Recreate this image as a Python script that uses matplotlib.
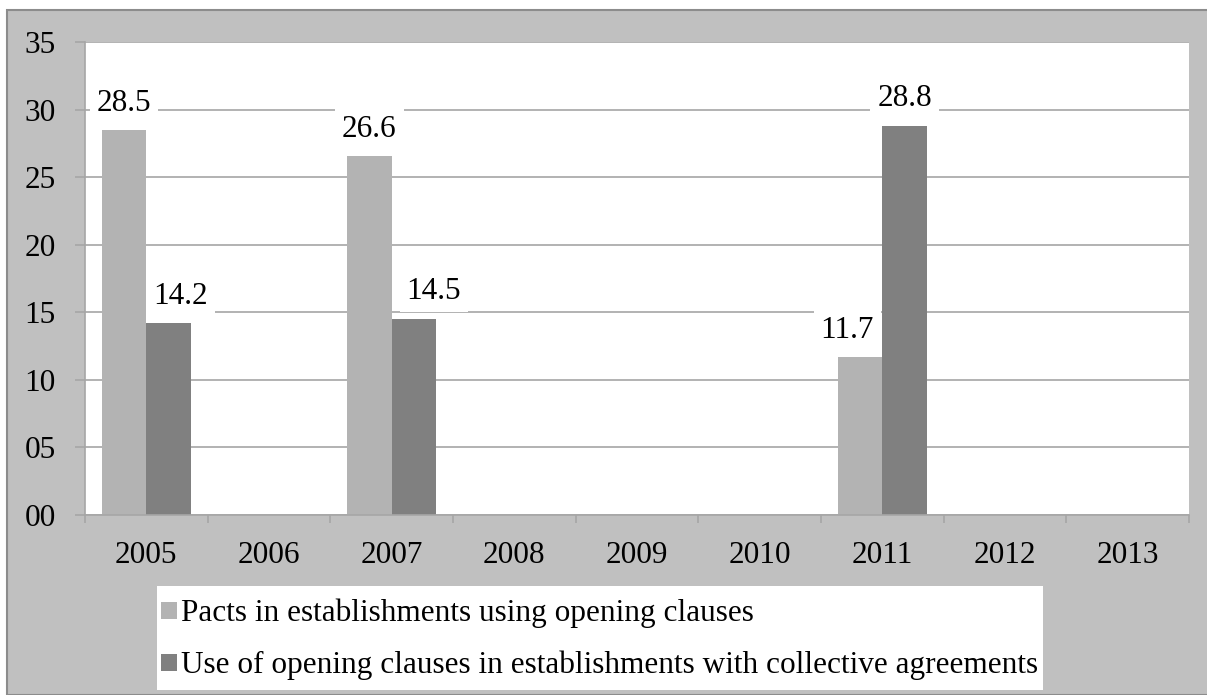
import matplotlib

matplotlib.use("Agg")
import matplotlib.pyplot as plt
import numpy as np
from matplotlib.patches import Rectangle

years = ["2005", "2006", "2007", "2008", "2009", "2010", "2011", "2012", "2013"]
pacts = [28.5, None, 26.6, None, None, None, 11.7, None, None]
use_clauses = [14.2, None, 14.5, None, None, None, 28.8, None, None]
series_names = [
    "Pacts in establishments using opening clauses",
    "Use of opening clauses in establishments with collective agreements",
]
y_ticks = [0, 5, 10, 15, 20, 25, 30, 35]
y_tick_labels = ["00", "05", "10", "15", "20", "25", "30", "35"]

LIGHT = "#b3b3b3"
DARK = "#808080"
GRID = "#a6a6a6"
PANEL = "#c0c0c0"
FONT = "Liberation Serif"
FS = 22.5

plt.rcParams["font.family"] = FONT

W, H = 1207, 695
fig = plt.figure(figsize=(W / 100, H / 100), dpi=100)
fig.patch.set_facecolor("white")
fig.add_artist(Rectangle((7 / W, 0), 1.2, 1 - 10 / H, transform=fig.transFigure,
                         facecolor=PANEL, edgecolor="#8c8c8c", linewidth=1.5, zorder=0))

ax = fig.add_axes([85 / W, 1 - 515 / H, (1189 - 85) / W, (515 - 42) / H])
ax.set_facecolor("white")

x = np.arange(len(years))
bw = 0.3625
vals1 = [np.nan if v is None else v for v in pacts]
vals2 = [np.nan if v is None else v for v in use_clauses]
ax.bar(x - bw / 2, vals1, width=bw, color=LIGHT, zorder=2, label=series_names[0])
ax.bar(x + bw / 2, vals2, width=bw, color=DARK, zorder=2, label=series_names[1])

# data label offsets in pixels, placed like the original Excel chart
offsets1 = {0: (0, 26), 2: (0, 26), 6: (-13, 26)}
offsets2 = {0: (12, 27), 2: (20, 28), 6: (0, 27)}
for vals, offs, sign in [(pacts, offsets1, -1), (use_clauses, offsets2, 1)]:
    for i, v in enumerate(vals):
        if v is None:
            continue
        dx, dy = offs[i]
        ax.annotate(f"{v:.1f}", (i + sign * bw / 2, v), xytext=(dx * 0.72, dy * 0.72),
                    textcoords="offset points", ha="center", va="center", fontsize=FS,
                    zorder=5, bbox=dict(boxstyle="square,pad=0.22", fc="white", ec="none"))

ax.set_xlim(-0.5, len(years) - 0.5)
ax.set_ylim(0, 35)
ax.set_yticks(y_ticks)
ax.set_yticklabels(y_tick_labels, fontsize=FS)
ax.yaxis.grid(True, color=GRID, linewidth=1.2, zorder=1)
ax.set_axisbelow(True)

ax.set_xticks(x)
ax.set_xticklabels(years, fontsize=FS)
ax.set_xticks(np.arange(-0.5, len(years)), minor=True)
ax.tick_params(axis="x", which="major", length=0, pad=19)
ax.tick_params(axis="x", which="minor", length=6, color=GRID, width=1.2)
ax.tick_params(axis="y", length=7, color=GRID, width=1.2, pad=14)

for side in ["top", "right"]:
    ax.spines[side].set_visible(False)
for side in ["left", "bottom"]:
    ax.spines[side].set_color(GRID)
    ax.spines[side].set_linewidth(1.2)

# white legend panel, then the legend itself without a frame
fig.add_artist(Rectangle((157 / W, 1 - 690 / H), (1043 - 157) / W, (690 - 586) / H,
                         transform=fig.transFigure, facecolor="white", edgecolor="none",
                         zorder=1))
leg = fig.legend(loc="upper left", bbox_to_anchor=(161 / W, 1 - 599 / H), fontsize=FS,
                 frameon=False, borderaxespad=0, handlelength=0.5, handleheight=0.5,
                 handletextpad=0.15, labelspacing=0.72, borderpad=0)
leg.set_zorder(2)

fig.savefig("out.png", dpi=100)
